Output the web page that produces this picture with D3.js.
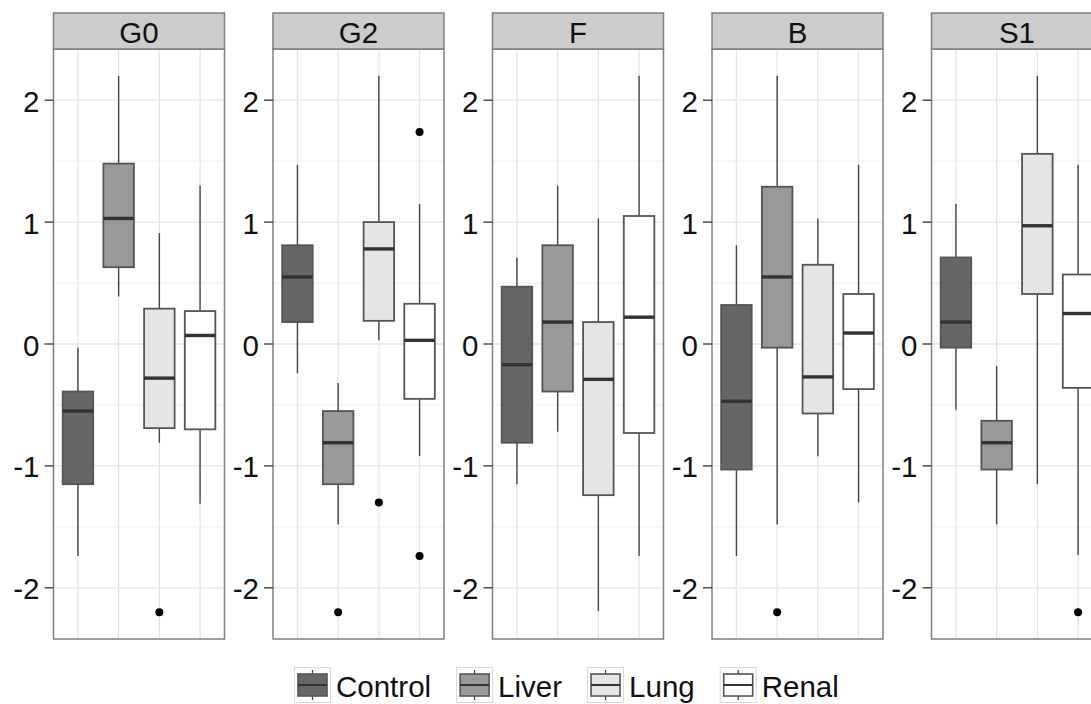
<!DOCTYPE html>
<html>
<head>
<meta charset="utf-8">
<title>boxplots by group</title>
<script src="https://cdn.jsdelivr.net/npm/d3@7"></script>
<style>
	html, body { margin: 0; padding: 0; background: #fff; }
	svg { display: block; font-family: "Liberation Sans", Arial, sans-serif; }
</style>
</head>
<body>
<svg id="chart" width="1091" height="704"></svg>
<script>
// facets and groups
var facets = ["G0", "G2", "F", "B", "S1"];
var groups = ["Control", "Liver", "Lung", "Renal"];
var yTicks = [-2, -1, 0, 1, 2];

// box stats, one row per facet, one value per group
var whiskerLow = [
	[-1.74,  0.39, -0.81, -1.31],
	[-0.24, -1.48,  0.03, -0.92],
	[-1.15, -0.72, -2.19, -1.74],
	[-1.74, -1.48, -0.92, -1.30],
	[-0.54, -1.48, -1.15, -1.73]
];
var q1 = [
	[-1.15,  0.63, -0.69, -0.70],
	[ 0.18, -1.15,  0.19, -0.45],
	[-0.81, -0.39, -1.24, -0.73],
	[-1.03, -0.03, -0.57, -0.37],
	[-0.03, -1.03,  0.41, -0.36]
];
var median = [
	[-0.55,  1.03, -0.28,  0.07],
	[ 0.55, -0.81,  0.78,  0.03],
	[-0.17,  0.18, -0.29,  0.22],
	[-0.47,  0.55, -0.27,  0.09],
	[ 0.18, -0.81,  0.97,  0.25]
];
var q3 = [
	[-0.39,  1.48,  0.29,  0.27],
	[ 0.81, -0.55,  1.00,  0.33],
	[ 0.47,  0.81,  0.18,  1.05],
	[ 0.32,  1.29,  0.65,  0.41],
	[ 0.71, -0.63,  1.56,  0.57]
];
var whiskerHigh = [
	[-0.03,  2.20,  0.91,  1.30],
	[ 1.47, -0.32,  2.20,  1.15],
	[ 0.71,  1.30,  1.03,  2.20],
	[ 0.81,  2.20,  1.03,  1.47],
	[ 1.15, -0.18,  2.20,  1.47]
];
var outliers = [
	[[], [], [-2.2], []],
	[[], [-2.2], [-1.3], [1.74, -1.74]],
	[[], [], [], []],
	[[], [-2.2], [], []],
	[[], [], [], [-2.2]]
];

var svg = d3.select("#chart");
var fs = 29.5;

var fill = d3.scaleOrdinal().domain(groups).range(["#666666", "#999999", "#e5e5e5", "#ffffff"]);

var fx = d3.scaleBand().domain(facets).range([53.5, 1102.5]).paddingInner(0.221).paddingOuter(0);
var pw = fx.bandwidth();
var x = d3.scaleLinear().domain([0.4, 4.6]).range([0, pw]);
var y = d3.scaleLinear().domain([-2.42, 2.42]).range([639, 49]);
var stripTop = 13;
var boxW = x(1.75) - x(1);

facets.forEach(function(f, fi) {
	var g = svg.append("g").attr("transform", "translate(" + fx(f) + ",0)");

	// minor grid
	g.selectAll(".minor").data([-1.5, -0.5, 0.5, 1.5]).enter().append("line")
		.attr("x1", 0).attr("x2", pw)
		.attr("y1", function(d) { return y(d); }).attr("y2", function(d) { return y(d); })
		.attr("stroke", "#f2f2f2").attr("stroke-width", 1.2);
	// major grid
	g.selectAll(".major").data(yTicks).enter().append("line")
		.attr("x1", 0).attr("x2", pw)
		.attr("y1", function(d) { return y(d); }).attr("y2", function(d) { return y(d); })
		.attr("stroke", "#e5e5e5").attr("stroke-width", 1.3);
	g.selectAll(".vgrid").data(groups).enter().append("line")
		.attr("x1", function(d, i) { return x(i + 1); }).attr("x2", function(d, i) { return x(i + 1); })
		.attr("y1", y.range()[1]).attr("y2", y.range()[0])
		.attr("stroke", "#e5e5e5").attr("stroke-width", 1.3);

	// boxes
	groups.forEach(function(grp, gi) {
		var cx = x(gi + 1);
		var b = g.append("g");
		b.append("line").attr("x1", cx).attr("x2", cx)
			.attr("y1", y(q3[fi][gi])).attr("y2", y(whiskerHigh[fi][gi]))
			.attr("stroke", "#444").attr("stroke-width", 1.4);
		b.append("line").attr("x1", cx).attr("x2", cx)
			.attr("y1", y(q1[fi][gi])).attr("y2", y(whiskerLow[fi][gi]))
			.attr("stroke", "#444").attr("stroke-width", 1.4);
		b.append("rect")
			.attr("x", cx - boxW / 2).attr("width", boxW)
			.attr("y", y(q3[fi][gi])).attr("height", y(q1[fi][gi]) - y(q3[fi][gi]))
			.attr("fill", fill(grp)).attr("stroke", "#555").attr("stroke-width", 1.8);
		b.append("line").attr("x1", cx - boxW / 2).attr("x2", cx + boxW / 2)
			.attr("y1", y(median[fi][gi])).attr("y2", y(median[fi][gi]))
			.attr("stroke", "#333").attr("stroke-width", 3.4);
		b.selectAll("circle").data(outliers[fi][gi]).enter().append("circle")
			.attr("cx", cx).attr("cy", function(d) { return y(d); })
			.attr("r", 4).attr("fill", "#000");
	});

	// panel border
	g.append("rect").attr("x", 0).attr("y", y.range()[1]).attr("width", pw)
		.attr("height", y.range()[0] - y.range()[1])
		.attr("fill", "none").attr("stroke", "#7f7f7f").attr("stroke-width", 1.5);

	// strip
	g.append("rect").attr("x", 0).attr("y", stripTop).attr("width", pw)
		.attr("height", y.range()[1] - stripTop)
		.attr("fill", "#cccccc").attr("stroke", "#7f7f7f").attr("stroke-width", 1.5);
	g.append("text").attr("x", pw / 2).attr("y", (stripTop + y.range()[1]) / 2 + 1)
		.attr("text-anchor", "middle").attr("dominant-baseline", "central")
		.attr("font-size", fs).attr("fill", "#111").text(f);

	// y axis
	var ax = g.append("g");
	ax.selectAll("line").data(yTicks).enter().append("line")
		.attr("x1", -9).attr("x2", 0)
		.attr("y1", function(d) { return y(d); }).attr("y2", function(d) { return y(d); })
		.attr("stroke", "#333").attr("stroke-width", 1.3);
	ax.selectAll("text").data(yTicks).enter().append("text")
		.attr("x", -14).attr("y", function(d) { return y(d) + 1; })
		.attr("text-anchor", "end").attr("dominant-baseline", "central")
		.attr("font-size", fs).attr("fill", "#111")
		.text(function(d) { return d < 0 ? "-" + Math.abs(d) : d; });
});

// legend
var leg = svg.append("g");
var keyW = 37, keyH = 36, keyTop = 667;
var lx = 294;
groups.forEach(function(grp) {
	var k = leg.append("g").attr("transform", "translate(" + lx + "," + keyTop + ")");
	k.append("rect").attr("x", 0.5).attr("y", 0.5).attr("width", keyW - 1).attr("height", keyH - 1)
		.attr("fill", "#fff").attr("stroke", "#d9d9d9").attr("stroke-width", 1);
	var mx = keyW / 2;
	k.append("line").attr("x1", mx).attr("x2", mx).attr("y1", 3).attr("y2", 33)
		.attr("stroke", "#444").attr("stroke-width", 1.3);
	k.append("rect").attr("x", 4).attr("y", 7).attr("width", keyW - 8).attr("height", 22)
		.attr("fill", fill(grp)).attr("stroke", "#555").attr("stroke-width", 1.6);
	k.append("line").attr("x1", 4).attr("x2", keyW - 4).attr("y1", 18).attr("y2", 18)
		.attr("stroke", "#333").attr("stroke-width", 2);
	var t = leg.append("text").attr("x", lx + keyW + 5).attr("y", keyTop + keyH / 2 + 1)
		.attr("dominant-baseline", "central").attr("font-size", fs).attr("fill", "#111")
		.text(grp);
	lx += keyW + 5 + t.node().getComputedTextLength() + 25;
});
</script>
</body>
</html>
